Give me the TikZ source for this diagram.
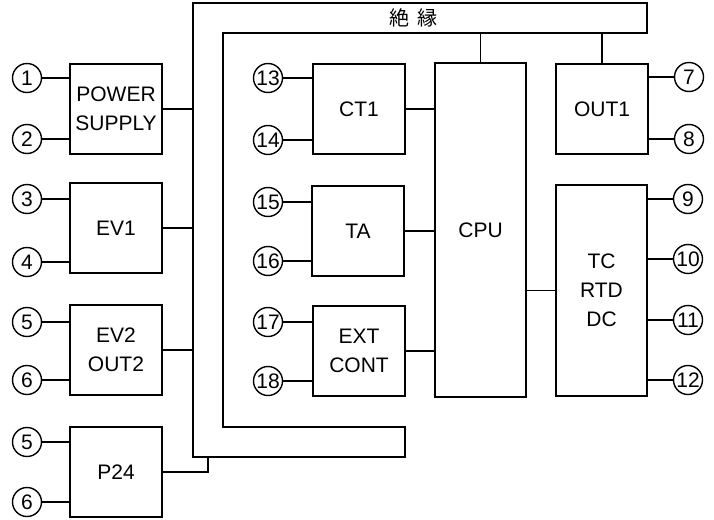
\documentclass[tikz,border=0pt]{standalone}
\usepackage{fontspec}
\setmainfont{Liberation Sans}
\newfontfamily\jpfont{Noto Sans CJK JP}
\begin{document}
\begin{tikzpicture}[x=1pt,y=-1pt,line width=1.4pt,
  font=\fontsize{21}{29}\selectfont,
  box/.style={draw,minimum width=92pt,minimum height=90pt,align=center,inner sep=0pt},
  term/.style={draw,circle,minimum size=29pt,inner sep=0pt,font=\fontsize{21}{21}\selectfont}]
\useasboundingbox (0,0) rectangle (714,519);
% insulation frame
\draw (193,3) -- (647,3) -- (647,33) -- (223,33) -- (223,427) -- (405,427) -- (405,457) -- (193,457) -- cycle;
\coordinate (insL) at (193,0);
\coordinate (insT) at (0,33);
\coordinate (insB) at (0,457);
\coordinate (p24x) at (208,0);
\node[font=\jpfont\fontsize{20}{20}\selectfont] (lbl) at (413,18) {絶\hspace{8pt}縁};
% boxes
\node[box] (ps) at (116,109) {POWER\\SUPPLY};
\node[box] (ev1) at (116,228) {EV1};
\node[box] (ev2) at (116,350) {EV2\\OUT2};
\node[box] (p24) at (116,472) {P24};
\node[box] (ct1) at (359,109) {CT1};
\node[box] (ta) at (358,231) {TA};
\node[box] (ext) at (359,351) {EXT\\CONT};
\node[box,minimum width=91pt,minimum height=334pt] (cpu) at (480.5,230) {CPU};
\node[box] (out1) at (602,109) {OUT1};
\node[box,minimum width=91pt,minimum height=211pt] (tc) at (601.5,290.5) {TC\\RTD\\DC};
% terminals left
\node[term] (t1) at (27,78) {1};
\node[term] (t2) at (27,139) {2};
\node[term] (t3) at (27,199) {3};
\node[term] (t4) at (27,262) {4};
\node[term] (t5a) at (27,322) {5};
\node[term] (t6a) at (27,380) {6};
\node[term] (t5b) at (27,442) {5};
\node[term] (t6b) at (27,502) {6};
% terminals middle
\node[term] (t13) at (268,78) {13};
\node[term] (t14) at (268,140) {14};
\node[term] (t15) at (268,202) {15};
\node[term] (t16) at (268,261) {16};
\node[term] (t17) at (268,322) {17};
\node[term] (t18) at (268,381) {18};
% terminals right
\node[term] (t7) at (689,77) {7};
\node[term] (t8) at (689,139) {8};
\node[term] (t9) at (688,199) {9};
\node[term] (t10) at (688,259) {10};
\node[term] (t11) at (688,320) {11};
\node[term] (t12) at (688,380) {12};
% terminal connectors
\draw (t1) -- (t1 -| ps.west);
\draw (t2) -- (t2 -| ps.west);
\draw (t3) -- (t3 -| ev1.west);
\draw (t4) -- (t4 -| ev1.west);
\draw (t5a) -- (t5a -| ev2.west);
\draw (t6a) -- (t6a -| ev2.west);
\draw (t5b) -- (t5b -| p24.west);
\draw (t6b) -- (t6b -| p24.west);
\draw (t13) -- (t13 -| ct1.west);
\draw (t14) -- (t14 -| ct1.west);
\draw (t15) -- (t15 -| ta.west);
\draw (t16) -- (t16 -| ta.west);
\draw (t17) -- (t17 -| ext.west);
\draw (t18) -- (t18 -| ext.west);
\draw (t7) -- (t7 -| out1.east);
\draw (t8) -- (t8 -| out1.east);
\draw (t9) -- (t9 -| tc.east);
\draw (t10) -- (t10 -| tc.east);
\draw (t11) -- (t11 -| tc.east);
\draw (t12) -- (t12 -| tc.east);
% internal connectors
\draw (ps.east) -- (ps.east -| insL);
\draw (ev1.east) -- (ev1.east -| insL);
\draw (ev2.east) -- (ev2.east -| insL);
\draw (p24.east) -- (p24.east -| p24x) -- (p24x |- insB);
\draw (ct1.east) -- (ct1.east -| cpu.west);
\draw (ta.east) -- (ta.east -| cpu.west);
\draw (ext.east) -- (ext.east -| cpu.west);
\draw (cpu.east |- tc.west) -- (tc.west);
\draw (cpu.north) -- (cpu.north |- insT);
\draw (out1.north) -- (out1.north |- insT);
\end{tikzpicture}
\end{document}
